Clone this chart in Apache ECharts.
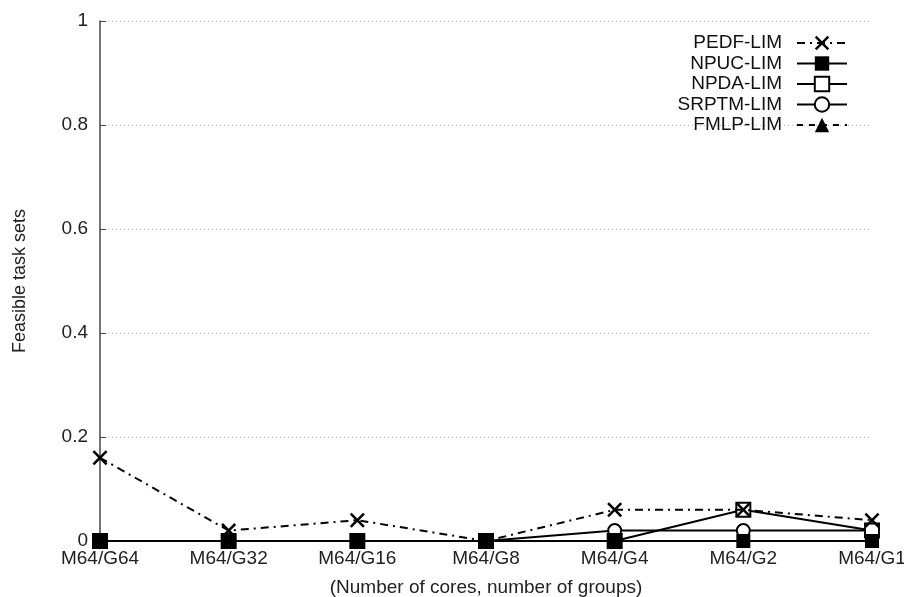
<!DOCTYPE html>
<html><head><meta charset="utf-8">
<script src="https://cdn.jsdelivr.net/npm/echarts@6/dist/echarts.min.js"></script>
<style>html,body{margin:0;padding:0;background:#fff}#c{width:904px;height:597px}</style>
</head><body><div id="c"></div>
<script>
const categories = ["M64/G64","M64/G32","M64/G16","M64/G8","M64/G4","M64/G2","M64/G1"];
const pedf  = [0.16, 0.02, 0.04, 0, 0.06, 0.06, 0.04];
const npuc  = [0, 0, 0, 0, 0, 0, 0];
const npda  = [0, 0, 0, 0, 0, 0.06, 0.02];
const srptm = [0, 0, 0, 0, 0.02, 0.02, 0.02];
const fmlp  = [0, 0, 0, 0, 0, 0, 0];
const yTicks = [0, 0.2, 0.4, 0.6, 0.8, 1];

const FONT = '"Liberation Sans", Arial, Helvetica, sans-serif';
const crossPath = 'path://M0,1.2L1.2,0L5,3.8L8.8,0L10,1.2L6.2,5L10,8.8L8.8,10L5,6.2L1.2,10L0,8.8L3.8,5Z';

function mk(name, data, symbol, size, lineType, z) {
  const empty = symbol.startsWith('empty');
  const s = {
    name, type: 'line', data, symbol, symbolSize: size, z,
    lineStyle: { color: '#000', width: 2, type: lineType },
    itemStyle: { color: '#000' },
    emphasis: { disabled: true }, animation: false
  };
  if (empty) s.itemStyle = { color: '#000', borderColor: '#000', borderWidth: 1.6 };
  return s;
}

const chart = echarts.init(document.getElementById('c'), null, { renderer: 'canvas' });
chart.setOption({
  backgroundColor: '#fff',
  textStyle: { fontFamily: FONT },
  grid: { left: 100, right: 32, top: 21, bottom: 56, containLabel: false, outerBoundsMode: 'none' },
  legend: {
    orient: 'vertical', right: 51, top: 28, align: 'right',
    itemWidth: 50, itemHeight: 18, itemGap: 0.5,
    textStyle: { fontSize: 19, lineHeight: 20, color: '#111', fontFamily: FONT, padding: [0, 10, 0, 0] },
    data: ['PEDF-LIM','NPUC-LIM','NPDA-LIM','SRPTM-LIM','FMLP-LIM']
  },
  xAxis: {
    type: 'category', data: categories, boundaryGap: false,
    axisLine: { show: false }, axisTick: { show: false },
    axisLabel: { fontSize: 19, color: '#222', margin: 8, fontFamily: FONT },
    name: '(Number of cores, number of groups)', nameLocation: 'middle', nameGap: 37,
    nameTextStyle: { fontSize: 19, color: '#222', fontFamily: FONT },
    splitLine: { show: false }
  },
  yAxis: {
    type: 'value', min: yTicks[0], max: yTicks[yTicks.length-1], interval: 0.2,
    axisLine: { show: true, lineStyle: { color: '#444', width: 1.5 } },
    axisTick: { show: true, inside: true, length: 6, lineStyle: { color: '#444' } },
    axisLabel: { fontSize: 19, color: '#222', margin: 12, fontFamily: FONT,
      formatter: v => String(Math.round(v*10)/10) },
    splitLine: { show: true, lineStyle: { color: '#bbb', type: [1, 3], width: 1 } },
    name: 'Feasible task sets', nameLocation: 'middle', nameGap: 71, nameRotate: 90,
    nameTextStyle: { fontSize: 18, color: '#222', fontFamily: FONT }
  },
  series: [
    mk('PEDF-LIM', pedf, crossPath, 15, [8,5,2,5], 6),
    mk('NPUC-LIM', npuc, 'rect', 14, 'solid', 7),
    mk('NPDA-LIM', npda, 'emptyRect', 14, 'solid', 4),
    mk('SRPTM-LIM', srptm, 'emptyCircle', 13, 'solid', 3),
    mk('FMLP-LIM', fmlp, 'triangle', 14, [6,6], 2)
  ]
});
</script></body></html>
